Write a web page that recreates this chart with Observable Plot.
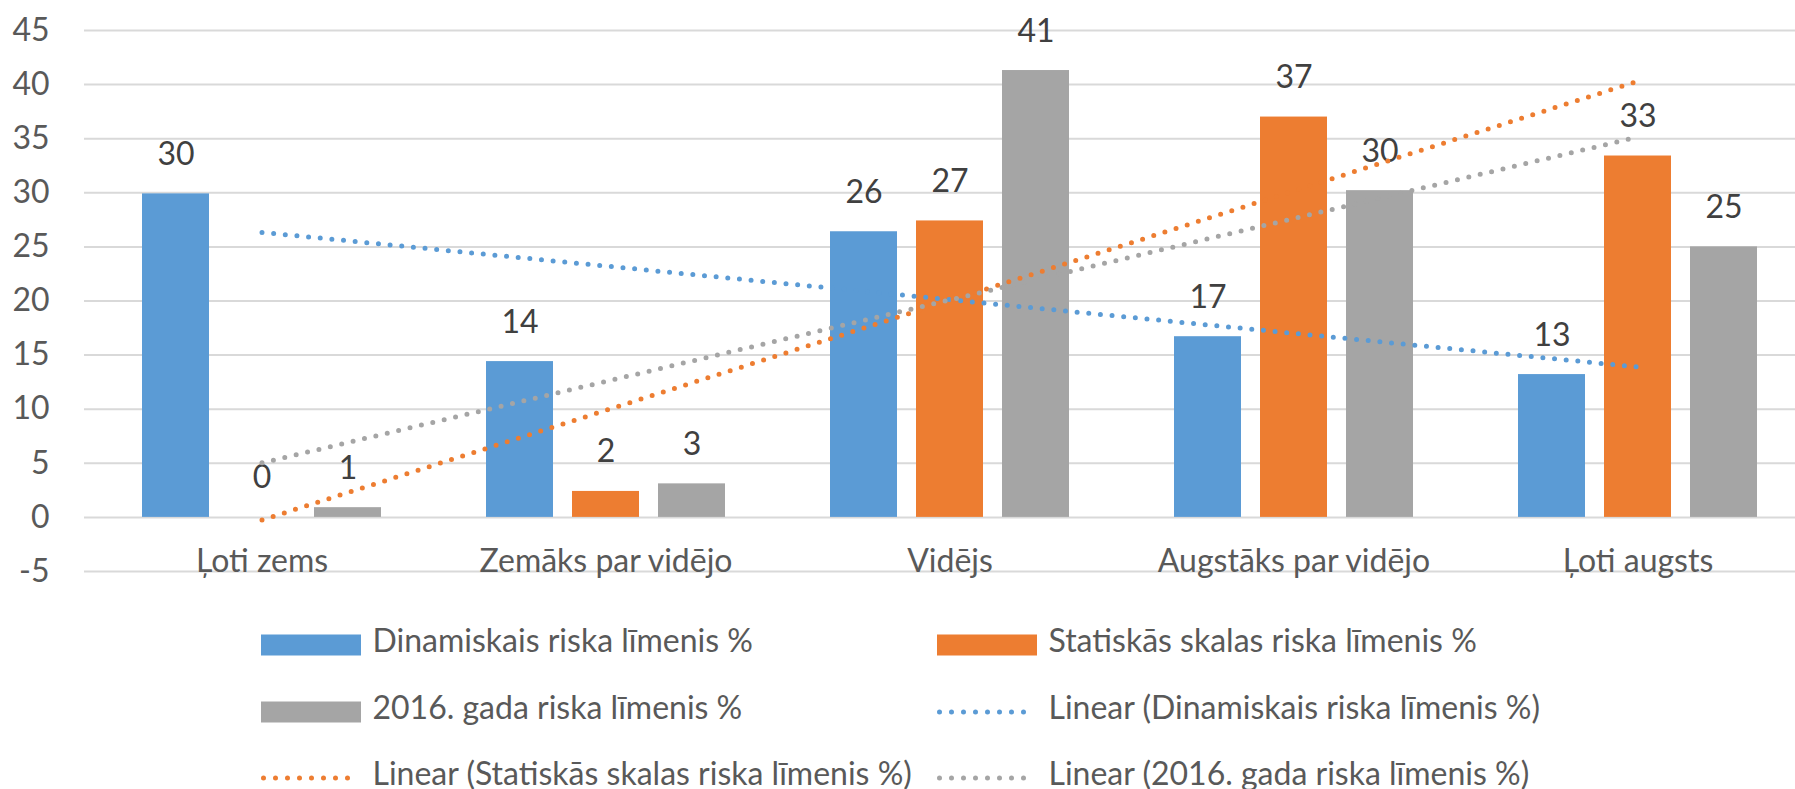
<!DOCTYPE html>
<html>
<head>
<meta charset="utf-8">
<script src="https://cdn.jsdelivr.net/npm/d3@7"></script>
<script src="https://cdn.jsdelivr.net/npm/@observablehq/plot@0.6"></script>
<style>
  html, body { margin: 0; padding: 0; background: #fff; }
  #chart svg { display: block; }
  #legend {
    display: grid;
    grid-template-columns: 676px auto;
    grid-auto-rows: 66.6px;
    padding-left: 261px;
    padding-top: 11.7px;
    font-family: Lato, sans-serif;
    font-size: 32px;
    color: #595959;
  }
  .item { display: flex; align-items: center; gap: 11.5px; white-space: nowrap; }
  .item svg { display: block; }
  .item span { line-height: 1; position: relative; top: -5px; }
</style>
</head>
<body>
<div id="chart"></div>
<div id="legend"></div>
<script>
// ---- data ----
const categories = ["Ļoti zems", "Zemāks par vidējo", "Vidējs", "Augstāks par vidējo", "Ļoti augsts"];
const seriesNames = ["Dinamiskais riska līmenis %", "Statiskās skalas riska līmenis %", "2016. gada riska līmenis %"];
const dinamiskais = [29.9, 14.4, 26.4, 16.7, 13.2];
const statiskas = [0, 2.4, 27.4, 37.0, 33.4];
const gads2016 = [0.9, 3.1, 41.3, 30.2, 25.0];
const yTicks = [-5, 0, 5, 10, 15, 20, 25, 30, 35, 40, 45];
const colors = ["#5B9BD5", "#ED7D31", "#A5A5A5"];

const seriesValues = [dinamiskais, statiskas, gads2016];
const key = (c, s) => c + "\u0001" + s;

// band domain: three bars per category, with one empty slot between groups
const domain = [];
categories.forEach((c, i) => {
  seriesNames.forEach(s => domain.push(key(c, s)));
  if (i < categories.length - 1) domain.push("gap" + i);
});

const rows = categories.flatMap((c, i) =>
  seriesNames.map((s, j) => ({category: c, series: s, key: key(c, s), value: seriesValues[j][i]}))
);

// linear trendlines (least squares over category index 1..n)
const trendRows = seriesNames.flatMap((s, j) => {
  const ys = seriesValues[j];
  const xs = ys.map((_, i) => i + 1);
  const mx = d3.mean(xs), my = d3.mean(ys);
  const slope = d3.sum(xs, (x, i) => (x - mx) * (ys[i] - my)) / d3.sum(xs, x => (x - mx) ** 2);
  const fit = x => my + slope * (x - mx);
  return [0, categories.length - 1].map(i => ({
    series: "Linear (" + s + ")",
    key: key(categories[i], seriesNames[1]),
    y: fit(i + 1)
  }));
});
const trendNames = seriesNames.map(s => "Linear (" + s + ")");

const chart = Plot.plot({
  width: 1795,
  height: 600,
  marginLeft: 84,
  marginRight: 0,
  marginTop: 30,
  marginBottom: 29,
  style: {fontFamily: "Lato, sans-serif", fontSize: "32px", color: "#595959", background: "white", overflow: "visible"},
  x: {type: "band", domain, paddingInner: 0.223, paddingOuter: 0.49, align: 0.6, axis: null},
  y: {domain: [-5, 45]},
  color: {domain: [...seriesNames, ...trendNames], range: [...colors, ...colors]},
  marks: [
    Plot.gridY(yTicks, {stroke: "#D9D9D9", strokeOpacity: 1, strokeWidth: 2}),
    Plot.axisY(yTicks, {tickSize: 0, tickPadding: 35, fontSize: 32, label: null, tickFormat: d => String(d)}),
    Plot.barY(rows, {x: "key", y: "value", fill: "series"}),
    Plot.text(rows, {x: "key", y: "value", text: d => d3.format(".0f")(d.value), lineAnchor: "bottom", dy: -29, fill: "#404040", fontSize: 32}),
    Plot.text(categories, {x: c => key(c, seriesNames[1]), text: d => d, frameAnchor: "bottom", lineAnchor: "bottom", fontSize: 32, fill: "#595959"}),
    Plot.line(trendRows, {x: "key", y: "y", z: "series", stroke: "series", strokeWidth: 5, strokeDasharray: "0 11.7", strokeLinecap: "round"})
  ]
});
document.getElementById("chart").append(chart);

// ---- legend ----
const legendItems = [
  {name: seriesNames[0], color: colors[0], kind: "bar"},
  {name: seriesNames[1], color: colors[1], kind: "bar"},
  {name: seriesNames[2], color: colors[2], kind: "bar"},
  {name: trendNames[0], color: colors[0], kind: "line"},
  {name: trendNames[1], color: colors[1], kind: "line"},
  {name: trendNames[2], color: colors[2], kind: "line"}
];
const legend = d3.select("#legend");
legendItems.forEach(it => {
  const div = legend.append("div").attr("class", "item");
  const svg = div.append("svg").attr("width", 100).attr("height", 22);
  if (it.kind === "bar") {
    svg.append("rect").attr("x", 0).attr("y", 0.5).attr("width", 100).attr("height", 21).attr("fill", it.color);
  } else {
    svg.append("line").attr("x1", 2.5).attr("x2", 98.5).attr("y1", 11).attr("y2", 11)
      .attr("stroke", it.color).attr("stroke-width", 5).attr("stroke-linecap", "round").attr("stroke-dasharray", "0 12");
  }
  div.append("span").text(it.name);
});
</script>
</body>
</html>
